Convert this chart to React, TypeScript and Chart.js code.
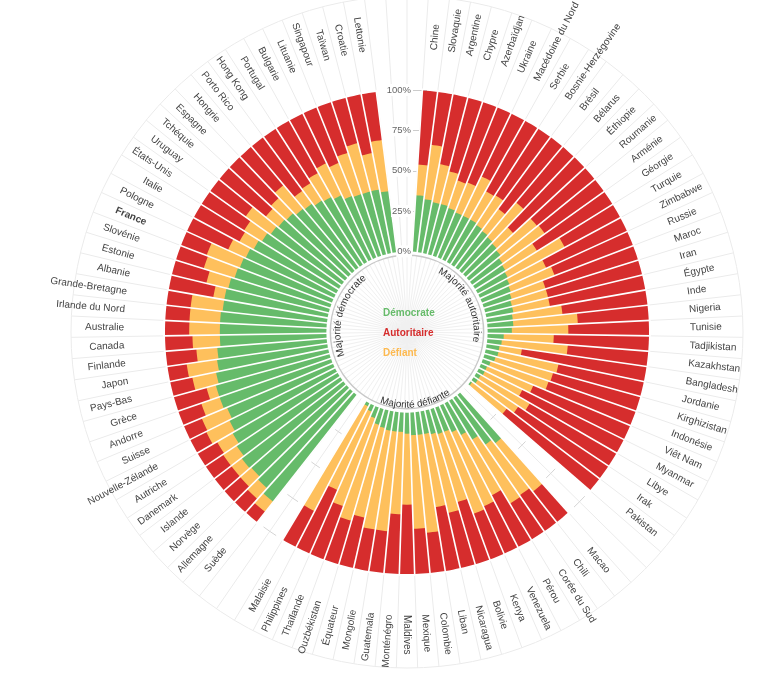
import React, { useEffect, useRef } from 'react';
import { Chart, registerables } from 'chart.js';

Chart.register(...registerables);

// ---------- DATA ----------
// Group "Majorité autoritaire" (clockwise from the top)
const autoritaireCountries = [
  'Chine', 'Slovaquie', 'Argentine', 'Chypre', 'Azerbaïdjan', 'Ukraine', 'Macédoine du Nord', 'Serbie',
  'Bosnie-Herzégovine', 'Brésil', 'Bélarus', 'Éthiopie', 'Roumanie', 'Arménie', 'Géorgie', 'Turquie',
  'Zimbabwe', 'Russie', 'Maroc', 'Iran', 'Égypte', 'Inde', 'Nigeria', 'Tunisie', 'Tadjikistan',
  'Kazakhstan', 'Bangladesh', 'Jordanie', 'Kirghizistan', 'Indonésie', 'Viêt Nam', 'Myanmar', 'Libye',
  'Irak', 'Pakistan',
];
const autoritaireDem = [35, 33, 32, 32, 31, 30, 30, 30, 29, 28, 27, 26, 25, 23, 22, 21, 20, 19, 18, 17, 17, 16, 16, 15, 10, 9, 8, 8, 7, 5, 4, 4, 3, 3, 1];
const autoritaireDef = [19, 34, 24, 21, 18, 20, 27, 20, 22, 17, 28, 14, 29, 32, 23, 40, 25, 29, 22, 23, 23, 31, 40, 35, 31, 41, 14, 38, 37, 38, 31, 26, 35, 30, 27];
const autoritaireAut = [46, 33, 44, 47, 51, 50, 43, 50, 49, 55, 45, 60, 46, 45, 55, 39, 55, 52, 60, 60, 60, 53, 44, 50, 59, 50, 78, 54, 56, 57, 65, 70, 62, 67, 72];

// Group "Majorité défiante"
const defiantCountries = [
  'Macao', 'Chili', 'Corée du Sud', 'Pérou', 'Venezuela', 'Kenya', 'Bolivie', 'Nicaragua', 'Liban',
  'Colombie', 'Mexique', 'Maldives', 'Monténégro', 'Guatemala', 'Mongolie', 'Équateur', 'Ouzbékistan',
  'Thaïlande', 'Philippines', 'Malaisie',
];
const defiantDem = [38, 35, 28, 22, 18, 16, 16, 15, 14, 14, 14, 13, 12, 12, 12, 11, 10, 7, 4, 2];
const defiantDef = [38, 38, 46, 42, 50, 54, 44, 50, 46, 61, 58, 44, 51, 62, 62, 57, 62, 58, 53, 73];
const defiantAut = [24, 27, 26, 36, 32, 30, 40, 35, 40, 25, 28, 43, 37, 26, 26, 32, 28, 35, 43, 25];

// Group "Majorité démocrate"
const democrateCountries = [
  'Suède', 'Allemagne', 'Norvège', 'Islande', 'Danemark', 'Autriche', 'Nouvelle-Zélande', 'Suisse',
  'Andorre', 'Grèce', 'Pays-Bas', 'Japon', 'Finlande', 'Canada', 'Australie', 'Irlande du Nord',
  'Grande-Bretagne', 'Albanie', 'Estonie', 'Slovénie', 'France', 'Pologne', 'Italie', 'États-Unis',
  'Uruguay', 'Tchéquie', 'Espagne', 'Hongrie', 'Porto Rico', 'Hong Kong', 'Portugal', 'Bulgarie',
  'Lituanie', 'Singapour', 'Taïwan', 'Croatie', 'Lettonie',
];
const democrateDem = [84, 80, 78, 79, 77, 75, 73, 71, 73, 73, 71, 69, 68, 66, 66, 66, 65, 65, 64, 62, 61, 60, 58, 56, 54, 53, 52, 50, 49, 47, 46, 44, 41, 40, 40, 40, 38];
const democrateDef = [8, 9, 9, 8, 10, 11, 16, 17, 12, 6, 15, 19, 13, 17, 19, 19, 20, 7, 14, 20, 22, 12, 10, 13, 19, 10, 13, 19, 10, 13, 17, 22, 22, 27, 31, 23, 32];
const democrateAut = [8, 11, 13, 13, 13, 14, 11, 12, 15, 21, 14, 12, 19, 17, 15, 15, 15, 28, 22, 18, 17, 28, 32, 31, 27, 37, 35, 31, 41, 40, 37, 34, 37, 33, 29, 37, 30];

const groupLabels = ['Majorité autoritaire', 'Majorité défiante', 'Majorité démocrate'];
const legendLabels = ['Démocrate', 'Autoritaire', 'Défiant'];
const tickValues = [0, 25, 50, 75, 100];
const highlighted = 'France';

// ---------- STYLE ----------
const GREEN = '#66bb6a';
const RED = '#d62d2d';
const YELLOW = '#fec05c';
const FONT = '"Liberation Sans", Arial, Helvetica, sans-serif';

// Empty slots used as separators between groups
const LEAD_GAP = 1;
const MID_GAP = 2;
const TAIL_GAP = 2;

type Slot = { name: string; dem: number | null; def: number | null; aut: number | null };

function buildSlots(): Slot[] {
  const slots: Slot[] = [];
  const empty = () => ({ name: '', dem: null, def: null, aut: null });
  for (let i = 0; i < LEAD_GAP; i++) slots.push(empty());
  autoritaireCountries.forEach((n, i) => slots.push({ name: n, dem: autoritaireDem[i], def: autoritaireDef[i], aut: autoritaireAut[i] }));
  for (let i = 0; i < MID_GAP; i++) slots.push(empty());
  defiantCountries.forEach((n, i) => slots.push({ name: n, dem: defiantDem[i], def: defiantDef[i], aut: defiantAut[i] }));
  for (let i = 0; i < MID_GAP; i++) slots.push(empty());
  democrateCountries.forEach((n, i) => slots.push({ name: n, dem: democrateDem[i], def: democrateDef[i], aut: democrateAut[i] }));
  for (let i = 0; i < TAIL_GAP; i++) slots.push(empty());
  return slots;
}

function drawArcText(ctx: CanvasRenderingContext2D, text: string, cx: number, cy: number, radius: number, center: number, outward: boolean) {
  const chars = Array.from(text);
  const widths = chars.map((c) => ctx.measureText(c).width);
  const total = widths.reduce((a, b) => a + b, 0);
  const span = total / radius;
  let a = outward ? center - span / 2 : center + span / 2;
  ctx.textAlign = 'center';
  ctx.textBaseline = 'alphabetic';
  chars.forEach((ch, i) => {
    const w = widths[i] / radius;
    const mid = outward ? a + w / 2 : a - w / 2;
    ctx.save();
    ctx.translate(cx + radius * Math.sin(mid), cy - radius * Math.cos(mid));
    ctx.rotate(outward ? mid : mid - Math.PI);
    ctx.fillText(ch, 0, 0);
    ctx.restore();
    a = outward ? a + w : a - w;
  });
}

export default function App() {
  const canvasRef = useRef<HTMLCanvasElement | null>(null);

  useEffect(() => {
    const canvas = canvasRef.current;
    if (!canvas) return;
    const slots = buildSlots();
    const labels = slots.map((s) => s.name);
    const demTop = slots.map((s) => (s.dem === null ? null : s.dem));
    const defTop = slots.map((s) => (s.dem === null ? null : (s.dem as number) + (s.def as number)));
    const autTop = slots.map((s) => (s.dem === null ? null : (s.dem as number) + (s.def as number) + (s.aut as number)));

    const n = slots.length;
    const step = (2 * Math.PI) / n;
    const isEmpty = (k: number) => slots[((k % n) + n) % n].dem === null;

    // gap centres (angle) for decorative grid marks
    const gapCenters: number[] = [];
    {
      let k = 0;
      while (k < n) {
        if (isEmpty(k) && k !== 0) {
          let j = k;
          while (j < n && isEmpty(j)) j++;
          if (j < n) gapCenters.push(((k + j) / 2) * step);
          k = j;
        } else k++;
      }
    }

    const ringPlugin = {
      id: 'ringDecor',
      beforeDatasetsDraw(chart: any) {
        const ctx: CanvasRenderingContext2D = chart.ctx;
        const sc = chart.scales.r;
        const cx = sc.xCenter;
        const cy = sc.yCenter;
        const r100 = sc.getDistanceFromCenterForValue(100);
        const rOuter = r100 + 94;
        ctx.save();
        ctx.strokeStyle = '#ebebeb';
        ctx.lineWidth = 1;
        for (let k = 0; k < n; k++) {
          const t = k * step;
          ctx.beginPath();
          ctx.moveTo(cx, cy);
          ctx.lineTo(cx + rOuter * Math.sin(t), cy - rOuter * Math.cos(t));
          ctx.stroke();
        }
        ctx.beginPath();
        ctx.arc(cx, cy, rOuter, 0, Math.PI * 2);
        ctx.stroke();
        // top axis tick marks
        ctx.strokeStyle = '#cccccc';
        tickValues.forEach((v) => {
          const y = cy - sc.getDistanceFromCenterForValue(v);
          ctx.beginPath();
          ctx.moveTo(cx + 6, Math.round(y) + 0.5);
          ctx.lineTo(cx + 20, Math.round(y) + 0.5);
          ctx.stroke();
        });
        ctx.restore();
      },
      afterDatasetsDraw(chart: any) {
        const ctx: CanvasRenderingContext2D = chart.ctx;
        const sc = chart.scales.r;
        const cx = sc.xCenter;
        const cy = sc.yCenter;
        const r0 = sc.getDistanceFromCenterForValue(0);
        const r100 = sc.getDistanceFromCenterForValue(100);
        const rc = r0 - 4;
        ctx.save();
        // white separators between bars
        ctx.strokeStyle = '#ffffff';
        ctx.lineWidth = 1.6;
        for (let k = 0; k < n; k++) {
          if (isEmpty(k) && isEmpty(k - 1)) continue;
          const t = k * step;
          ctx.beginPath();
          ctx.moveTo(cx + (r0 - 2) * Math.sin(t), cy - (r0 - 2) * Math.cos(t));
          ctx.lineTo(cx + (r100 + 2) * Math.sin(t), cy - (r100 + 2) * Math.cos(t));
          ctx.stroke();
        }
        // central hole
        ctx.fillStyle = '#ffffff';
        ctx.beginPath();
        ctx.arc(cx, cy, r0, 0, Math.PI * 2);
        ctx.fill();
        ctx.strokeStyle = '#f0f0f0';
        ctx.lineWidth = 1;
        for (let k = 0; k < n; k++) {
          const t = k * step;
          ctx.beginPath();
          ctx.moveTo(cx, cy);
          ctx.lineTo(cx + rc * Math.sin(t), cy - rc * Math.cos(t));
          ctx.stroke();
        }
        ctx.strokeStyle = '#c8c8c8';
        ctx.lineWidth = 1.5;
        ctx.beginPath();
        ctx.arc(cx, cy, rc, 0, Math.PI * 2);
        ctx.stroke();

        // grid marks inside the gaps
        ctx.strokeStyle = '#d4d4d4';
        ctx.lineWidth = 1;
        gapCenters.forEach((gc) => {
          [25, 50, 75, 100].forEach((v) => {
            const r = sc.getDistanceFromCenterForValue(v);
            ctx.beginPath();
            ctx.arc(cx, cy, r, gc - step / 2 - Math.PI / 2, gc + step / 2 - Math.PI / 2);
            ctx.stroke();
          });
        });

        // tick labels (top gap)
        ctx.font = `9.5px ${FONT}`;
        ctx.textAlign = 'right';
        ctx.textBaseline = 'middle';
        tickValues.forEach((v) => {
          const y = cy - sc.getDistanceFromCenterForValue(v);
          ctx.fillStyle = '#ffffff';
          const w = ctx.measureText(`${v}%`).width;
          ctx.fillRect(cx + 4 - w - 1, y - 6, w + 2, 12);
          ctx.fillStyle = '#666666';
          ctx.fillText(`${v}%`, cx + 4, y);
        });

        // country labels
        const rL = r100 + 41;
        ctx.fillStyle = '#444444';
        ctx.textBaseline = 'middle';
        slots.forEach((s, i) => {
          if (!s.name) return;
          const t = (i + 0.5) * step;
          ctx.save();
          ctx.translate(cx + rL * Math.sin(t), cy - rL * Math.cos(t));
          ctx.font = `${s.name === highlighted ? 'bold ' : ''}10px ${FONT}`;
          if (t <= Math.PI + 1e-6) {
            ctx.rotate(t - Math.PI / 2);
            ctx.textAlign = 'left';
          } else {
            ctx.rotate(t + Math.PI / 2);
            ctx.textAlign = 'right';
          }
          ctx.fillText(s.name, 0, 0);
          ctx.restore();
        });

        // group labels along the inner circle
        ctx.fillStyle = '#333333';
        ctx.font = `10px ${FONT}`;
        const deg = Math.PI / 180;
        drawArcText(ctx, groupLabels[0], cx, cy, rc - 10, 63 * deg, true);
        drawArcText(ctx, groupLabels[1], cx, cy, rc - 1, 173 * deg, false);
        drawArcText(ctx, groupLabels[2], cx, cy, rc - 10, 286 * deg, true);

        // centre legend
        const colors = [GREEN, RED, '#fdb94f'];
        ctx.font = `bold 10px ${FONT}`;
        ctx.textAlign = 'left';
        ctx.textBaseline = 'middle';
        legendLabels.forEach((l, i) => {
          ctx.fillStyle = colors[i];
          ctx.fillText(l, cx - 24, cy - 19 + i * 20);
        });
        ctx.restore();
      },
    };

    const chart = new Chart(canvas, {
      type: 'polarArea',
      data: {
        labels,
        datasets: [
          { label: 'Démocrate', data: demTop as any, backgroundColor: GREEN, borderWidth: 0, clip: false } as any,
          { label: 'Défiant', data: defTop as any, backgroundColor: YELLOW, borderWidth: 0, clip: false } as any,
          { label: 'Autoritaire', data: autTop as any, backgroundColor: RED, borderWidth: 0, clip: false } as any,
        ],
      },
      options: {
        responsive: false,
        animation: false,
        events: [],
        layout: { padding: { left: 165, top: 90, right: 117, bottom: 106 } },
        plugins: { legend: { display: false }, tooltip: { enabled: false } },
        scales: {
          r: {
            min: -50,
            max: 100,
            startAngle: 0,
            grid: { display: false },
            angleLines: { display: false },
            ticks: { display: false },
            pointLabels: { display: false },
          },
        },
      } as any,
      plugins: [ringPlugin],
    });
    return () => chart.destroy();
  }, []);

  return (
    <div style={{ position: 'absolute', left: 0, top: 0, width: 766, height: 680, background: '#ffffff' }}>
      <canvas ref={canvasRef} width={766} height={680} style={{ display: 'block' }} />
    </div>
  );
}
